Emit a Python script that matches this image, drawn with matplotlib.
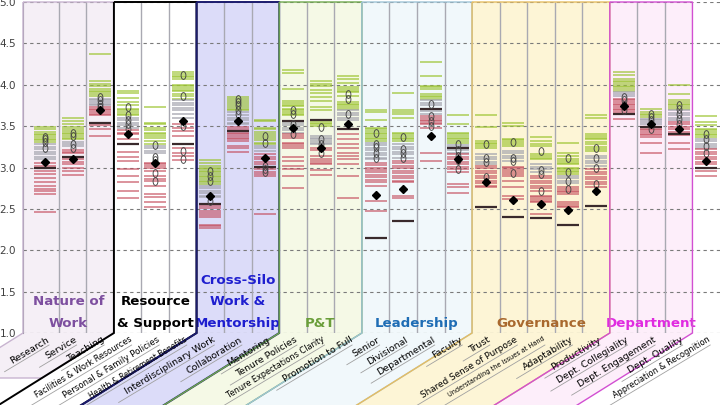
import numpy as np
import matplotlib
matplotlib.use("Agg")
import matplotlib.pyplot as plt
from matplotlib.patches import Polygon
from matplotlib.lines import Line2D
from matplotlib.path import Path
from matplotlib.transforms import Affine2D

# ---- data -----------------------------------------------------------------
categories = ["Research", "Service", "Teaching",
              "Facilities & Work Resources", "Personal & Family Policies",
              "Health & Retirement Benefits",
              "Interdisciplinary Work", "Collaboration", "Mentoring",
              "Tenure Policies", "Tenure Expectations Clarity", "Promotion to Full",
              "Senior", "Divisional", "Departmental", "Faculty",
              "Trust", "Shared Sense of Purpose", "Understanding the Issues at Hand",
              "Adaptability", "Productivity",
              "Dept. Collegiality", "Dept. Engagement", "Dept. Quality",
              "Appreciation & Recognition"]

group_titles = [["Nature of", "Work"], ["Resource", "& Support"],
                ["Cross-Silo", "Work &", "Mentorship"], ["P&T"], ["Leadership"],
                ["Governance"], ["Department"]]
group_first = [0, 3, 6, 9, 12, 16, 21]
group_last = [2, 5, 8, 11, 15, 20, 23]

# other institutions, split by band (top / middle / bottom)
green_lines = [
    [3.49, 3.46, 3.43, 3.41, 3.39, 3.37, 3.35, 3.33, 3.31],
    [3.60, 3.56, 3.53, 3.49, 3.46, 3.44, 3.42, 3.40, 3.38, 3.36, 3.34],
    [4.37, 4.04, 4.01, 3.98, 3.95, 3.93, 3.91, 3.89, 3.87],
    [3.93, 3.90, 3.84, 3.79, 3.76, 3.71, 3.69, 3.67, 3.65, 3.63],
    [3.73, 3.54, 3.52, 3.48, 3.45, 3.42, 3.40, 3.38, 3.36, 3.32, 3.29],
    [4.15, 4.13, 4.11, 4.09, 4.07, 4.00, 3.98, 3.96, 3.94, 3.92, 3.89, 3.86, 3.83],
    [3.09, 3.06, 3.02, 3.00, 2.98, 2.96, 2.94, 2.92, 2.90, 2.88, 2.86, 2.84, 2.82, 2.80],
    [3.85, 3.83, 3.80, 3.78, 3.75, 3.73, 3.71, 3.69],
    [3.58, 3.56, 3.48, 3.46, 3.43, 3.41, 3.38, 3.36, 3.33, 3.30, 3.28],
    [4.18, 4.14, 3.95, 3.80, 3.78, 3.76, 3.74, 3.71, 3.69, 3.67, 3.65, 3.63],
    [4.04, 4.01, 3.98, 3.94, 3.90, 3.85, 3.80, 3.73, 3.69, 3.56, 3.54, 3.52, 3.50],
    [4.11, 4.07, 4.02, 3.97, 3.95, 3.93, 3.91, 3.87, 3.79, 3.77, 3.75, 3.73, 3.71],
    [3.69, 3.67, 3.57, 3.48, 3.46, 3.44, 3.42, 3.40, 3.38, 3.36, 3.34, 3.32],
    [3.90, 3.69, 3.67, 3.65, 3.60, 3.42, 3.40, 3.38, 3.36, 3.34, 3.32],
    [4.28, 4.10, 3.99, 3.97, 3.95, 3.89, 3.87, 3.85, 3.83],
    [3.64, 3.52, 3.42, 3.40, 3.38, 3.36, 3.34, 3.32, 3.30],
    [3.63, 3.49, 3.32, 3.30, 3.28, 3.26, 3.24],
    [3.54, 3.50, 3.35, 3.33, 3.31, 3.29, 3.26],
    [3.37, 3.32, 3.29, 3.26, 3.16, 3.14, 3.12, 3.10],
    [3.30, 3.17, 3.14, 3.10, 3.08, 3.06, 3.04, 3.00, 2.98, 2.96, 2.94, 2.92],
    [3.64, 3.60, 3.40, 3.38, 3.36, 3.34, 3.31, 3.28, 3.25, 3.22, 3.20],
    [4.15, 4.12, 4.07, 4.05, 4.03, 4.01, 3.99, 3.97, 3.95, 3.93],
    [3.71, 3.67, 3.65, 3.63, 3.61],
    [4.00, 3.89, 3.81, 3.79, 3.77, 3.75, 3.73, 3.71],
    [3.62, 3.55, 3.51, 3.47, 3.45, 3.43, 3.41, 3.39, 3.37],
]
gray_lines = [
    [3.28, 3.25, 3.22, 3.19, 3.16, 3.13, 3.10],
    [3.31, 3.29, 3.26],
    [3.83, 3.81, 3.79, 3.77, 3.75],
    [3.60, 3.57, 3.54, 3.51, 3.48],
    [3.26, 3.23, 3.20, 3.17],
    [3.81, 3.78, 3.75, 3.72, 3.69, 3.65, 3.60],
    [2.78, 2.75, 2.72, 2.69, 2.66, 2.64],
    [3.67, 3.63, 3.60, 3.57, 3.54, 3.52],
    [3.26, 3.23, 3.20],
    [3.54, 3.51, 3.48, 3.45, 3.42],
    [3.38, 3.36, 3.34, 3.32, 3.30, 3.28],
    [3.69, 3.66, 3.63, 3.60, 3.58],
    [3.30, 3.27, 3.24, 3.21, 3.18, 3.15, 3.12, 3.10],
    [3.28, 3.25, 3.22, 3.19, 3.16, 3.12],
    [3.81, 3.78, 3.75, 3.68, 3.65],
    [3.27, 3.25, 3.21, 3.18],
    [3.16, 3.13, 3.10, 3.07, 3.04],
    [3.20, 3.17, 3.14, 3.11, 3.08],
    [3.04, 3.01, 2.98, 2.95],
    [2.90, 2.87, 2.84, 2.81],
    [3.14, 3.11, 3.08, 3.05, 3.02],
    [3.91, 3.89, 3.87],
    [3.59, 3.57, 3.55, 3.52],
    [3.69, 3.66, 3.63, 3.60, 3.57],
    [3.35, 3.32, 3.29, 3.26, 3.24],
]
red_lines = [
    [3.05, 3.02, 2.96, 2.92, 2.87, 2.82, 2.78, 2.74, 2.71, 2.68, 2.46],
    [3.21, 3.19, 3.17, 3.10, 3.07, 3.04, 2.99, 2.96, 2.91],
    [3.73, 3.71, 3.69, 3.67, 3.65, 3.63, 3.51, 3.46, 3.38],
    [3.45, 3.42, 3.40, 3.34, 3.19, 3.13, 3.08, 2.98, 2.90, 2.82, 2.72, 2.63],
    [3.06, 3.04, 3.02, 3.00, 2.96, 2.90, 2.86, 2.84, 2.78, 2.68, 2.64, 2.58, 2.52],
    [3.53, 3.48, 3.44, 3.38, 3.24, 3.18, 3.14, 3.09],
    [2.54, 2.51, 2.48, 2.45, 2.42, 2.40, 2.31, 2.29, 2.27],
    [3.49, 3.47, 3.42, 3.40, 3.38, 3.36, 3.34, 3.32, 3.26, 3.23, 3.19],
    [3.16, 3.13, 3.10, 3.07, 3.04, 2.98, 2.95, 2.92, 2.90, 2.44],
    [3.40, 3.38, 3.36, 3.30, 3.28, 3.26, 3.23, 3.13, 3.08, 3.02, 2.98, 2.90, 2.75],
    [3.23, 3.21, 3.14, 3.10, 3.08, 3.06, 3.04, 2.97, 2.91],
    [3.40, 3.34, 3.28, 3.23, 3.18, 3.14, 3.10, 3.04, 2.90, 2.63],
    [3.06, 3.03, 3.00, 2.97, 2.94, 2.91, 2.88, 2.85, 2.82, 2.78, 2.60, 2.48],
    [3.08, 3.05, 3.02, 2.99, 2.96, 2.93, 2.90, 2.87, 2.84, 2.82, 2.66, 2.63],
    [3.62, 3.60, 3.58, 3.56, 3.54, 3.52, 3.48, 3.18, 3.08],
    [3.16, 3.13, 3.10, 3.07, 3.04, 3.01, 2.98, 2.94, 2.80, 2.76, 2.69],
    [3.02, 2.99, 2.96, 2.93, 2.90, 2.87, 2.84, 2.81, 2.78, 2.76],
    [3.01, 2.99, 2.97, 2.95, 2.92, 2.90, 2.84, 2.76, 2.66, 2.62],
    [2.90, 2.87, 2.84, 2.81, 2.78, 2.75, 2.72, 2.66, 2.64, 2.62, 2.60, 2.58, 2.44],
    [2.76, 2.74, 2.72, 2.70, 2.68, 2.58, 2.56, 2.54, 2.52],
    [2.98, 2.95, 2.92, 2.89, 2.86, 2.83, 2.80, 2.76],
    [3.83, 3.81, 3.79, 3.77, 3.75, 3.73, 3.71, 3.69, 3.67, 3.59],
    [3.47, 3.45, 3.43, 3.41, 3.39, 3.37, 3.30, 3.17],
    [3.55, 3.52, 3.49, 3.46, 3.43, 3.39, 3.30, 3.22],
    [3.22, 3.19, 3.16, 3.13, 3.10, 3.07, 3.04, 2.96, 2.90],
]
dark_lines = [2.99, 3.13, 3.54, 3.28, None, 3.29, 2.56, 3.44, 3.01, 3.56, 3.58, 3.47,
              2.15, 2.35, 3.71, 3.23, 2.52, 2.40, 2.39, 2.31, 2.54, 3.65, 3.49, 3.41, 3.00]
peer_scores = [
    [3.37, 3.34, 3.31, 3.24], [3.42, 3.38, 3.28, 3.23], [3.85, 3.81, 3.77, 3.73],
    [3.73, 3.64, 3.58, 3.52, 3.46], [3.27, 3.13, 3.09, 2.93, 2.84],
    [4.12, 3.87, 3.50, 3.20, 3.10],
    [2.96, 2.90, 2.84, 2.60], [3.83, 3.79, 3.75, 3.69, 3.65], [3.38, 3.30, 3.02, 2.98, 2.94],
    [3.69, 3.65, 3.53, 3.40], [3.49, 3.34, 3.28, 3.18], [3.89, 3.83, 3.65],
    [3.42, 3.29, 3.25, 3.18, 3.12], [3.37, 3.22, 3.18, 3.12], [3.77, 3.62, 3.56, 3.50],
    [3.28, 3.21, 3.14, 3.09, 2.98],
    [3.29, 3.12, 3.07, 2.88], [3.31, 3.11, 3.08, 2.93], [3.20, 2.97, 2.92, 2.72],
    [3.12, 2.94, 2.84, 2.74], [3.23, 3.12, 2.99, 2.80],
    [3.85, 3.81, 3.75, 3.69], [3.65, 3.61, 3.57, 3.47], [3.75, 3.71, 3.65, 3.59, 3.53],
    [3.41, 3.35, 3.26, 3.18],
]
our_scores = [3.07, 3.10, 3.69, 3.40, 3.05, 3.56, 2.66, 3.56, 3.12, 3.48, 3.24, 3.52,
              2.67, 2.74, 3.38, 3.10, 2.82, 2.61, 2.56, 2.49, 2.72, 3.74, 3.52, 3.46, 3.08]

# ---- styles ---------------------------------------------------------------
group_fill = ["#f5eff6", "#ffffff", "#dcdcf9", "#f5f9e6", "#f1f8fb", "#fdf5d6", "#fdeefa"]
group_edge = ["#c8b4d0", "#000000", "#1b1b6e", "#6fa84c", "#9ec3d6", "#e6bd62", "#d24fd2"]
group_color = ["#7d4f9f", "#000000", "#1e1ecf", "#6a9e3a", "#1f6db5", "#a9692e", "#e02be0"]

W, H = 720, 405
fig = plt.figure(figsize=(W / 100, H / 100), dpi=100)
ax = fig.add_axes([23 / W, 72 / H, 697 / W, 331 / H])
ax.set_xlim(-0.8, 24.5)
ax.set_ylim(1.0, 5.0)
ax.patch.set_visible(False)

def fig_xy(xd, yd, dx=0.0, dy=0.0):
    px, py = ax.transData.transform((xd, yd))
    return ((px + dx) / W, (py + dy) / H)

# group shapes: box over the columns, slanted band under the axis
slant = 1.6
for g in range(len(group_titles)):
    x0 = group_first[g] - 0.5 if g > 0 else -0.8
    x1 = group_last[g] + 0.5
    depth = 45 if g == 0 else 90
    pts = [fig_xy(x0, 5.0), fig_xy(x1, 5.0), fig_xy(x1, 1.0),
           fig_xy(x1, 1.0, -slant * depth, -depth),
           fig_xy(x0, 1.0, -slant * depth, -depth), fig_xy(x0, 1.0)]
    fig.add_artist(Polygon(pts, closed=True, facecolor=group_fill[g], edgecolor="none",
                           transform=fig.transFigure, zorder=-3))
    fig.add_artist(Polygon(pts, closed=True, fill=False, edgecolor=group_edge[g],
                           lw=1.4 if g in (1, 2) else 1.0,
                           transform=fig.transFigure, zorder=2))

# grid and column separators
ax.set_yticks(np.arange(1.0, 5.01, 0.5))
ax.set_yticklabels([f"{v:.1f}" for v in np.arange(1.0, 5.01, 0.5)])
ax.grid(axis="y", ls=(0, (3, 3)), color="#7a7a7a", lw=0.8)
ax.set_axisbelow(True)
ax.set_xticks([])
ax.tick_params(axis="y", length=0, pad=5, labelsize=7.5, labelcolor="#404040")
for s in ["top", "right", "bottom"]:
    ax.spines[s].set_visible(False)
ax.spines["left"].set_color("#8a8a96")
sep = [k + 0.5 for k in range(24) if k not in group_last and k + 1 not in group_first]
ax.vlines(sep, 1.0, 5.0, color="#a9a9b2", lw=1.0, zorder=1)

# the distributions
n = len(categories)
for i in range(n):
    ax.hlines(green_lines[i], i - 0.4, i + 0.4, color="#9cc431", lw=1.25, alpha=0.72, zorder=2)
    ax.hlines(gray_lines[i], i - 0.4, i + 0.4, color="#a2a2ad", lw=1.25, alpha=0.75, zorder=2)
    ax.hlines(red_lines[i], i - 0.4, i + 0.4, color="#c44c5c", lw=1.25, alpha=0.68, zorder=2)
    if dark_lines[i] is not None:
        ax.hlines(dark_lines[i], i - 0.4, i + 0.4, color="#3a2a2c", lw=1.6, zorder=3)

oval = Path.unit_circle().transformed(Affine2D().scale(0.62, 1.0))
for i in range(n):
    ax.plot([i] * len(peer_scores[i]), peer_scores[i], ls="none", marker=oval, ms=5.6,
            mfc="none", mec="#444444", mew=0.65, zorder=4)
ax.plot(range(n), our_scores, ls="none", marker="D", ms=4.2, color="black", zorder=5)

# group titles
for g, lines in enumerate(group_titles):
    xc = (group_first[g] - 0.5 + group_last[g] + 0.5) / 2 if g > 0 else 0.85
    for k, txt in enumerate(reversed(lines)):
        ax.text(xc, 1.12 + 0.26 * k, txt, ha="center", va="center", fontsize=9.6,
                fontweight="bold", color=group_color[g], zorder=6)

# slanted category labels with leader lines
rend = fig.canvas.get_renderer()
ang = 31
ca, sa = np.cos(np.radians(ang)), np.sin(np.radians(ang))
for i, lab in enumerate(categories):
    fx, fy = fig_xy(i + 0.05, 1.0, 0, -2)
    t = fig.text(fx, fy, lab, fontsize=6.8, rotation=0, rotation_mode="anchor",
                 ha="right", va="top", zorder=6)
    w = t.get_window_extent(rend).width
    if w > 112:
        t.set_fontsize(6.8 * 112 / w)
        w = 112
    t.set_rotation(ang)
    sx, sy = fig_xy(i, 1.0, 4, -12)
    L = w + 8
    fig.add_artist(Line2D([sx, sx - L * ca / W], [sy, sy - L * sa / H], color="#a0a0a0",
                          lw=0.6, transform=fig.transFigure, zorder=5))

fig.savefig("out.png", dpi=100)
